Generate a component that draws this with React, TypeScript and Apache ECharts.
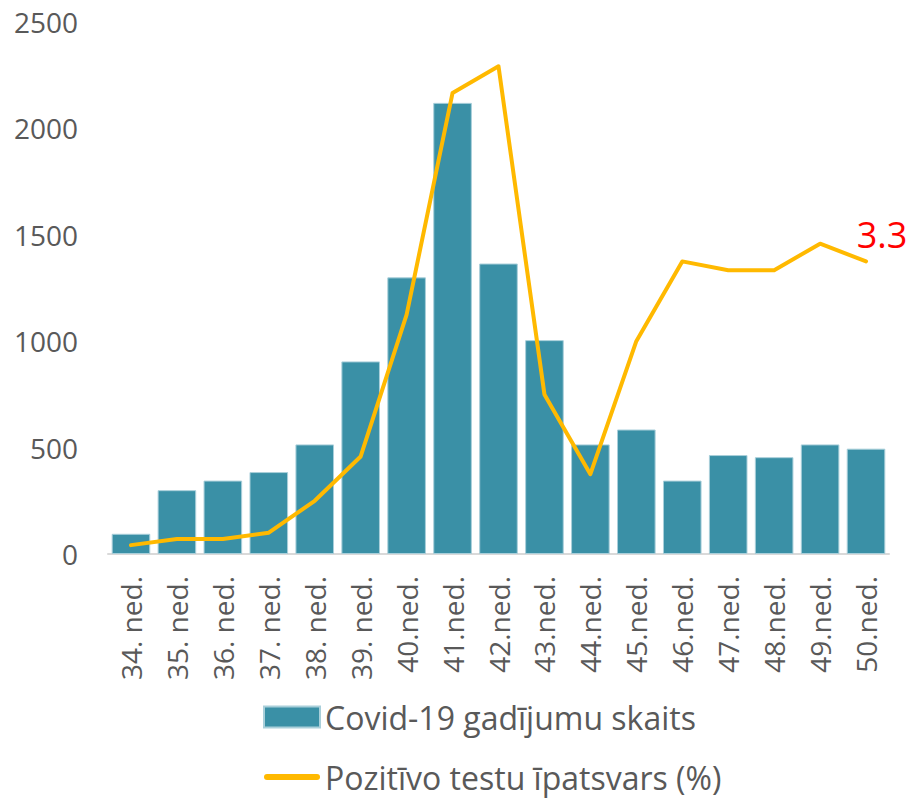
import React, { useEffect, useRef } from "react";
import * as echarts from "echarts";

const weeks = [
  "34. ned.", "35. ned.", "36. ned.", "37. ned.", "38. ned.", "39. ned.",
  "40.ned.", "41.ned.", "42.ned.", "43.ned.", "44.ned.", "45.ned.",
  "46.ned.", "47.ned.", "48.ned.", "49.ned.", "50.ned.",
];
const cases = [95, 300, 345, 385, 515, 905, 1300, 2120, 1365, 1005, 515, 585, 345, 465, 455, 515, 495];
const positivity = [0.1, 0.17, 0.17, 0.24, 0.6, 1.1, 2.7, 5.2, 5.5, 1.8, 0.9, 2.4, 3.3, 3.2, 3.2, 3.5, 3.3];
const casesName = "Covid-19 gadījumu skaits";
const positivityName = "Pozitīvo testu īpatsvars (%)";

const BAR = "#3A90A6";
const LINE = "#FFB900";
const TEXT = "#595959";
const FONT = "'Open Sans', 'Liberation Sans', sans-serif";

export default function App() {
  const ref = useRef<HTMLDivElement>(null);
  useEffect(() => {
    if (!ref.current) return;
    const chart = echarts.init(ref.current, undefined, { renderer: "svg" });
    const lineData = positivity.map((v, i) =>
      i === positivity.length - 1
        ? {
            value: v,
            label: {
              show: true,
              position: "top",
              offset: [16, -4],
              color: "#FF0000",
              fontSize: 36,
              fontFamily: FONT,
              formatter: (p: any) => String(p.value),
            },
          }
        : v
    );
    chart.setOption({
      animation: false,
      backgroundColor: "#ffffff",
      grid: { left: 108, right: 21, top: 22, bottom: 244, containLabel: false },
      legend: {
        orient: "vertical",
        left: 258,
        top: 696,
        itemWidth: 56,
        itemHeight: 21,
        itemGap: 28,
        textStyle: { color: TEXT, fontSize: 32, fontFamily: FONT },
        data: [
          { name: casesName, icon: "rect" },
          {
            name: positivityName,
            icon: "path://M3,0L53,0A3,3,0,0,1,53,6L3,6A3,3,0,0,1,3,0Z",
          },
        ],
      },
      xAxis: {
        type: "category",
        data: weeks,
        axisLine: { show: true, lineStyle: { color: "#D9D9D9", width: 2 } },
        axisTick: { show: false },
        axisLabel: {
          rotate: 90,
          margin: 22,
          color: TEXT,
          fontSize: 28,
          fontFamily: FONT,
          interval: 0,
        },
        splitLine: { show: false },
      },
      yAxis: [
        {
          type: "value",
          min: 0,
          max: 2500,
          interval: 500,
          axisLine: { show: false },
          axisTick: { show: false },
          splitLine: { show: false },
          axisLabel: {
            color: TEXT,
            fontSize: 28,
            fontFamily: FONT,
            margin: 30,
            formatter: (v: number) => String(v),
          },
        },
        {
          type: "value",
          min: 0,
          max: 6,
          show: false,
          splitLine: { show: false },
        },
      ],
      series: [
        {
          name: casesName,
          type: "bar",
          data: cases,
          yAxisIndex: 0,
          barCategoryGap: "16%",
          itemStyle: { color: BAR, borderColor: "#A9CFDA", borderWidth: 1 },
        },
        {
          name: positivityName,
          type: "line",
          data: lineData,
          yAxisIndex: 1,
          symbol: "circle",
          symbolSize: 0,
          showSymbol: true,
          lineStyle: { color: LINE, width: 4, cap: "round", join: "round" },
          itemStyle: { color: LINE },
        },
      ],
    });
    return () => chart.dispose();
  }, []);
  return (
    <div
      ref={ref}
      style={{ position: "fixed", left: 0, top: 0, width: 910, height: 798, background: "#fff" }}
    />
  );
}
